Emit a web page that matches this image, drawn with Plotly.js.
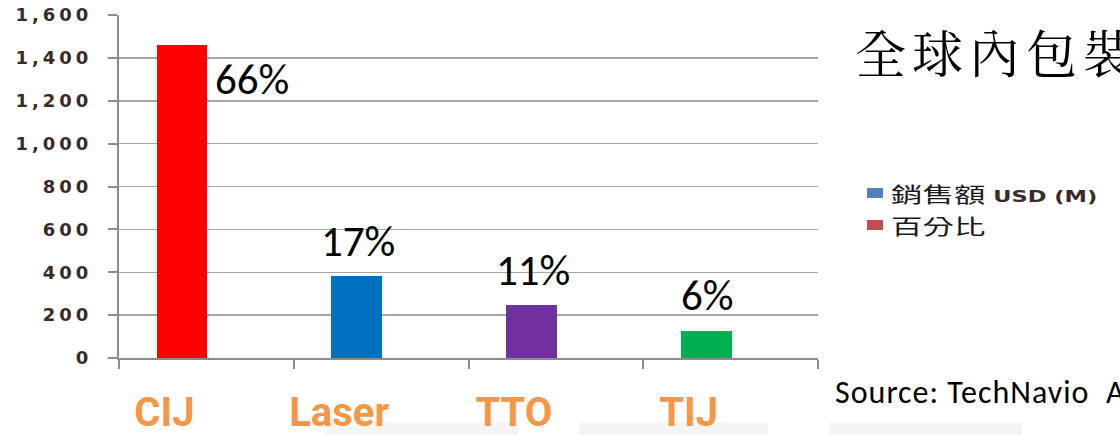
<!DOCTYPE html>
<html>
<head>
<meta charset="utf-8">
<script src="https://cdn.plot.ly/plotly-3.0.1.min.js"></script>
<style>
html,body{margin:0;padding:0;background:#fff;}
#chart{width:1120px;height:435px;}
#chart .ytick text{letter-spacing:4px;}
#chart .annotation[data-index="6"] text,
#chart .annotation[data-index="7"] text{
  transform-box:fill-box; transform-origin:0 50%; transform:scaleX(1.5);
}
</style>
</head>
<body>
<div id="chart"></div>
<script>
// ---- data ----
var categories = ["CIJ", "Laser", "TTO", "TIJ"];
var salesUSD = [1460, 382, 247, 126];
var percentLabels = ["66%", "17%", "11%", "6%"];
var barColors = ["#FF0000", "#0070C0", "#7030A0", "#00B050"];
var yTickVals = [0, 200, 400, 600, 800, 1000, 1200, 1400, 1600];
var yTickText = ["0", "200", "400", "600", "800", "1,000", "1,200", "1,400", "1,600"];
var legendLabels = ["銷售額", "百分比"];
var legendUnits = [" USD (M)", ""];
var legendColors = ["#4F81BD", "#C0504D"];
var titleText = "全球內包裝";
var sourceText = "Source: TechNavio  Analysis";

// ---- layout constants ----
var W = 1120, H = 435;
var L = 119, R = 818, T = 15, B = 358;
function px2paperX(px){ return (px - L) / (R - L); }
function px2paperY(py){ return (B - py) / (B - T); }

var trace = {
  type: "bar",
  x: categories,
  y: salesUSD,
  marker: { color: barColors, line: { width: 0 } },
  width: 0.29,
  offset: -0.285,
  showlegend: false,
  hoverinfo: "x+y"
};

var annotations = [];
percentLabels.forEach(function(t, i){
  var a = {
    x: categories[i], y: salesUSD[i], xref: "x", yref: "y",
    text: t, showarrow: false,
    font: { family: "Carlito, 'Noto Sans', sans-serif", size: 43, color: "#000" }
  };
  if (i === 0) {
    a.xanchor = "left"; a.yanchor = "middle"; a.xshift = 7; a.yshift = -34;
  } else {
    a.xanchor = "center"; a.yanchor = "middle"; a.xshift = -23; a.yshift = 35;
  }
  annotations.push(a);
});

// title (index 4)
annotations.push({
  xref: "paper", yref: "paper", x: px2paperX(853), y: px2paperY(51),
  xanchor: "left", yanchor: "middle",
  text: '<span style="letter-spacing:6px">' + titleText + '</span>', showarrow: false,
  font: { family: "'Noto Serif CJK TC', 'Noto Serif CJK SC', 'Noto Sans CJK TC', serif", size: 51, color: "#000" }
});
// source (index 5)
annotations.push({
  xref: "paper", yref: "paper", x: px2paperX(833), y: px2paperY(392),
  xanchor: "left", yanchor: "middle",
  text: '<span style="letter-spacing:1px">' + sourceText + '</span>', showarrow: false,
  font: { family: "Carlito, 'Noto Sans', sans-serif", size: 32, color: "#000" }
});

var shapes = [];
// legend (custom) indices 6,7
legendLabels.forEach(function(t, i){
  var cy = 193 + i * 32;
  shapes.push({
    type: "rect", xref: "paper", yref: "paper",
    x0: px2paperX(867), x1: px2paperX(883),
    y0: px2paperY(cy - 5), y1: px2paperY(cy + 5),
    fillcolor: legendColors[i], line: { width: 0 }
  });
  var txt = t;
  if (legendUnits[i]) {
    txt += '<span style="font-family:\'DejaVu Sans\',Verdana,sans-serif;font-size:15px;font-weight:bold;color:#3A2A2A">' + legendUnits[i] + '</span>';
  }
  annotations.push({
    xref: "paper", yref: "paper", x: px2paperX(889), y: px2paperY(cy),
    xanchor: "left", yanchor: "middle", text: txt, showarrow: false,
    font: { family: "'Noto Sans CJK TC', sans-serif", size: 21, color: "#1A1A1A" }
  });
});
// faint bottom blocks
[[326, 518], [579, 768], [829, 1022]].forEach(function(b){
  shapes.push({
    type: "rect", xref: "paper", yref: "paper", layer: "below",
    x0: px2paperX(b[0]), x1: px2paperX(b[1]),
    y0: px2paperY(435), y1: px2paperY(422),
    fillcolor: "#F5F5F5", line: { width: 0 }
  });
});

var layout = {
  width: W, height: H,
  margin: { l: L, r: W - R, t: T, b: H - B, pad: 0 },
  paper_bgcolor: "#fff", plot_bgcolor: "#fff",
  showlegend: false,
  xaxis: {
    type: "category",
    range: [-0.5, 3.5],
    tickson: "boundaries",
    ticks: "outside", ticklen: 9, tickwidth: 2, tickcolor: "#8C8C8C",
    showline: true, linecolor: "#8C8C8C", linewidth: 2,
    showgrid: false, zeroline: false,
    ticklabelstandoff: 18,
    ticklabelshift: -42,
    tickfont: { family: "'Liberation Sans Narrow', 'Roboto', sans-serif", size: 40, color: "#F79646", weight: "bold" }
  },
  yaxis: {
    range: [0, 1600],
    tickvals: yTickVals, ticktext: yTickText,
    ticks: "outside", ticklen: 9, tickwidth: 2, tickcolor: "#8C8C8C",
    showline: true, linecolor: "#8C8C8C", linewidth: 2,
    showgrid: true, gridcolor: "#A6A6A6", gridwidth: 1.5,
    zeroline: false,
    ticklabelstandoff: 12,
    tickfont: { family: "'DejaVu Sans', Verdana, sans-serif", size: 18, color: "#3A2A2A", weight: "bold" }
  },
  annotations: annotations,
  shapes: shapes,
  bargap: 0
};

Plotly.newPlot("chart", [trace], layout, { displayModeBar: false, staticPlot: true });
</script>
</body>
</html>
